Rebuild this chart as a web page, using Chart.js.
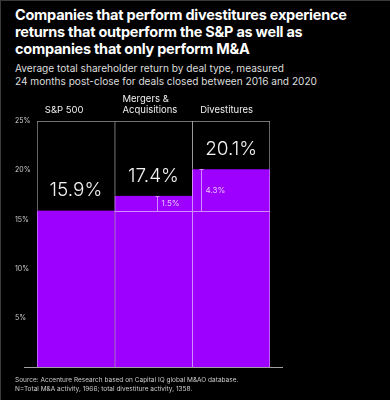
<!DOCTYPE html>
<html>
<head>
<meta charset="utf-8">
<script src="https://cdn.jsdelivr.net/npm/chart.js@4.4.1/dist/chart.umd.min.js"></script>
<style>
  html, body { margin: 0; padding: 0; background: #000; }
  body {
    width: 390px; height: 400px; position: relative; overflow: hidden;
    font-family: Inter, 'Noto Sans', sans-serif; color: #fff;
  }
  #frame { position: absolute; left: 0; top: 0; width: 389px; height: 399px;
           border-top: 1px solid #3a3a3a; border-left: 1px solid #3a3a3a; pointer-events: none; }
  #chart { position: absolute; left: 0; top: 0; }
  .title { position: absolute; left: 15px; top: 6px; font-size: 14.5px; font-weight: 700;
           line-height: 17px; letter-spacing: -0.25px; }
  .subtitle { position: absolute; left: 15px; top: 62px; font-size: 10.1px; line-height: 13px; color: #ddd; }
  .source { position: absolute; left: 15px; top: 376px; font-size: 6.5px; line-height: 9px; color: #ccc; }
</style>
</head>
<body>
<div class="title">Companies that perform divestitures experience<br>returns that outperform the S&amp;P as well as<br>companies that only perform M&amp;A</div>
<div class="subtitle">Average total shareholder return by deal type, measured<br>24 months post-close for deals closed between 2016 and 2020</div>
<canvas id="chart" width="390" height="400"></canvas>
<div class="source">Source: Accenture Research based on Capital IQ global M&amp;AO database.<br>N=Total M&amp;A activity, 1966; total divestiture activity, 1358.</div>
<div id="frame"></div>

<script>
// ─── Data ─────────────────────────────────────────────────────────────────────
const CATEGORIES   = ['S&P 500', ['Mergers &', 'Acquisitions'], 'Divestitures'];
const RETURNS      = [15.9, 17.4, 20.1];
const VALUE_LABELS = ['15.9%', '17.4%', '20.1%'];
const GAP_LABELS   = [null, '1.5%', '4.3%'];   // outperformance vs S&P 500
const Y_TICKS      = [0, 5, 10, 15, 20, 25];
const AXIS_MAX     = 25;

// ─── Colours ──────────────────────────────────────────────────────────────────
const PURPLE   = '#9e00ff';
const LAVENDER = '#d38bff';
const BOX_LINE = '#9a9a9a';

// where the bracket sits inside each bar (fraction of bar width)
const BRACKET_POS = [null, 0.54, 0.115];

const lastIdx = RETURNS.length - 1;

// ─── Extra marks: baseline, S&P reference line, brackets, value labels ───────
const overlayPlugin = {
  id: 'overlays',
  afterDatasetsDraw(chart) {
    const { ctx, chartArea, scales: { y } } = chart;
    const bars = chart.getDatasetMeta(0).data;
    const base = Math.round(y.getPixelForValue(0)) + 0.5;
    const refY = Math.round(y.getPixelForValue(RETURNS[0])) + 0.5;

    ctx.save();
    ctx.lineWidth = 1;

    // baseline
    ctx.strokeStyle = '#a0a0a0';
    ctx.beginPath();
    ctx.moveTo(chartArea.left - 13, base);
    ctx.lineTo(chartArea.right + 13, base);
    ctx.stroke();

    // S&P level carried across the other bars
    ctx.strokeStyle = LAVENDER;
    ctx.beginPath();
    ctx.moveTo(bars[1].x - bars[1].width / 2, refY);
    ctx.lineTo(bars[lastIdx].x + bars[lastIdx].width / 2, refY);
    ctx.stroke();

    // brackets + gap labels
    GAP_LABELS.forEach((label, i) => {
      if (!label) return;
      const b = bars[i];
      const bx = Math.round(b.x - b.width / 2 + BRACKET_POS[i] * b.width) + 0.5;
      const top = Math.round(y.getPixelForValue(RETURNS[i])) + 0.5;
      ctx.strokeStyle = LAVENDER;
      ctx.beginPath();
      ctx.moveTo(bx, top); ctx.lineTo(bx, refY);
      ctx.moveTo(bx - 2, top); ctx.lineTo(bx + 2, top);
      ctx.moveTo(bx - 2, refY); ctx.lineTo(bx + 2, refY);
      ctx.stroke();
      ctx.fillStyle = '#e8c2ff';
      ctx.font = '8px Inter, sans-serif';
      ctx.textAlign = 'left';
      ctx.textBaseline = 'middle';
      ctx.fillText(label, bx + 4, (top + refY) / 2);
    });

    // big value labels above each purple bar
    ctx.fillStyle = '#f2f2f2';
    ctx.font = '300 19px Inter, sans-serif';
    ctx.textAlign = 'center';
    ctx.textBaseline = 'middle';
    VALUE_LABELS.forEach((label, i) => {
      ctx.fillText(label, bars[i].x, y.getPixelForValue(RETURNS[i]) - 20);
    });
    ctx.restore();
  }
};

new Chart(document.getElementById('chart'), {
  type: 'bar',
  data: {
    labels: CATEGORIES,
    datasets: [
      {
        label: 'Return',
        data: RETURNS,
        backgroundColor: PURPLE,
        borderColor: LAVENDER,
        borderSkipped: false,
        borderWidth: c => ({ left: 1, right: c.dataIndex === lastIdx ? 1 : 0, top: 0, bottom: 0 }),
        barPercentage: 1,
        categoryPercentage: 1,
        grouped: false
      },
      {
        label: 'Headroom',
        data: RETURNS.map(v => [v, AXIS_MAX]),
        backgroundColor: '#000',
        borderColor: BOX_LINE,
        borderSkipped: false,
        borderWidth: c => ({ left: 1, right: c.dataIndex === lastIdx ? 1 : 0, top: 1, bottom: 0 }),
        barPercentage: 1,
        categoryPercentage: 1,
        grouped: false
      }
    ]
  },
  options: {
    responsive: false,
    animation: false,
    devicePixelRatio: 1,
    layout: { padding: { left: 15, right: 120, top: 0, bottom: 33 } },
    plugins: { legend: { display: false }, tooltip: { enabled: false } },
    scales: {
      x: {
        position: 'top',
        offset: true,
        grid: { display: false, drawTicks: false },
        border: { display: false },
        ticks: {
          align: 'start',
          labelOffset: -31,
          padding: 5,
          maxRotation: 0,
          autoSkip: false,
          color: '#eeeeee',
          font: { family: 'Inter, sans-serif', size: 9.5 }
        },
        afterFit(s) { s.height = 121; }
      },
      y: {
        min: 0,
        max: AXIS_MAX,
        grid: { display: false, drawTicks: false },
        border: { display: false },
        afterBuildTicks(s) { s.ticks = Y_TICKS.map(v => ({ value: v })); },
        ticks: {
          crossAlign: 'far',
          padding: 0,
          color: '#cccccc',
          font: { family: 'Inter, sans-serif', size: 7 },
          callback: v => (v === 0 ? '' : v + '%')
        },
        afterFit(s) { s.width = 22; }
      }
    }
  },
  plugins: [overlayPlugin]
});
</script>
</body>
</html>
